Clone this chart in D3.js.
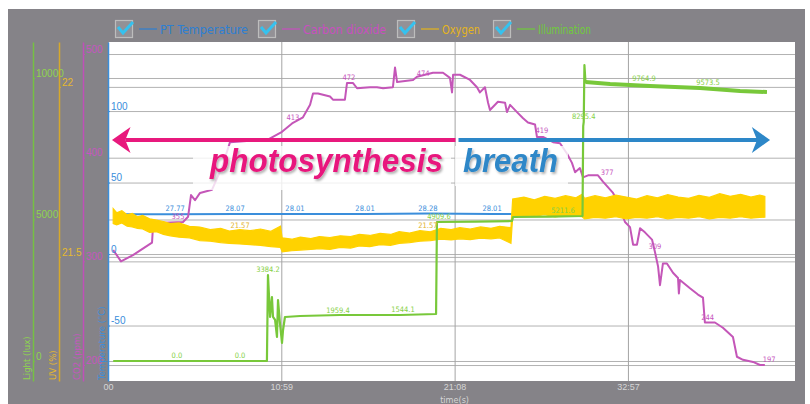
<!DOCTYPE html>
<html>
<head>
<meta charset="utf-8">
<script src="https://cdn.jsdelivr.net/npm/d3@7"></script>
<style>
  body { margin: 0; background: #fff; }
  svg { display: block; font-family: "DejaVu Sans Condensed", "Liberation Sans Narrow", Roboto, sans-serif; }
</style>
</head>
<body>
<div id="chart"></div>
<script>

// x axis is the sample number, the device prints a clock under each gridline
var timeTicks = [0, 100, 200, 300];
var timeLabels = ["00", "10:59", "21:08", "32:57"];

var seriesNames = ["PT Temperature", "Carbon dioxide", "Oxygen", "Illumination"];
var axisTitles = ["Light (lux)", "UV (%)", "CO2 (ppm)", "Temperature (\u00b0C)"];

var tempTicks = [-50, 0, 50, 100];
var co2Ticks = [200, 300, 400, 500];
var luxTicks = [0, 5000, 10000];
var o2Ticks = [21.5, 22];

// PT temperature (°C)
var tempIdx = [8, 38.7, 73.3, 107.9, 148.3, 184.6, 221.6, 233];
var tempVal = [27.85, 27.77, 28.07, 28.01, 28.01, 28.28, 28.01, 28.01];

// carbon dioxide (ppm)
var co2Idx = [3, 7.5, 14.4, 25.4, 26, 28.9, 43.3, 46.2, 47.9, 50.2, 53.1, 60, 66, 70.4, 80, 91.7,
  100.4, 106.2, 112.5, 116.6, 118.3, 121.2, 128.1, 129.8, 136.7, 137.9, 141.4, 143.7, 151.2, 155.2,
  158.7, 164.4, 165.6, 166.8, 176, 178.3, 187.5, 193.3, 197.3, 198.5, 199.1, 203.1, 208.9, 212.9,
  214.6, 217.5, 219.3, 220.4, 225, 229.1, 230.2, 232, 236, 239.5, 242.3, 246.4, 247.5, 251, 256.8,
  260.8, 264.8, 267.7, 269.5, 272.3, 274.1, 277, 282.7, 285.6, 291.4, 293.7, 298.3, 301.2, 303,
  305.2, 307, 309.8, 313.9, 315.6, 317.4, 318.5, 320.2, 322.5, 326, 328.9, 329.4, 330, 335.8, 340.4,
  343.3, 344.4, 350.2, 354.8, 360.6, 362.9, 366.4, 372.2, 376.2, 379];
var co2Val = [311, 300, 306, 318, 335, 337, 338, 343, 364, 359, 366, 369, 392, 415, 416, 417,
  425, 433, 439, 451, 462, 462, 459, 456, 456, 472, 472, 467, 468, 468,
  467, 468, 487, 473, 475, 478, 482, 482, 477, 463, 480, 480, 475, 468,
  463, 468, 453, 446, 454, 453, 444, 451, 444, 438, 434, 432, 420, 420, 415,
  414, 404, 395, 386, 390, 381, 383, 383, 377, 366, 359, 338, 333, 316,
  316, 332, 328, 321, 309, 295, 277, 298, 298, 289, 284, 269, 282, 274, 268,
  265, 241, 241, 236, 227, 208, 205, 203, 200, 200];

// oxygen (%), the reading is noisy so the device draws a band: upper and lower edge
var o2Idx = [3, 5, 8, 11, 14, 17, 20, 24, 28, 32, 36, 41, 47, 53, 59, 65, 70, 76, 82, 88, 94, 99.5,
  100.5, 106, 111, 117, 122, 128, 134, 140, 145, 151, 157, 163, 168, 174, 180, 186, 192, 198, 203,
  209, 215, 221, 226, 232.5, 233.5, 240, 246, 252, 258, 264, 270, 273.5, 275, 281, 287, 293, 299,
  305, 311, 317, 323, 329, 335, 341, 347, 353, 359, 365, 371, 376, 379];
var o2High = [21.642, 21.630, 21.636, 21.624, 21.628, 21.618, 21.622, 21.612, 21.608, 21.604, 21.598,
  21.600, 21.590, 21.588, 21.580, 21.584, 21.576, 21.580, 21.577, 21.582, 21.575, 21.590,
  21.556, 21.552, 21.558, 21.554, 21.560, 21.557, 21.562, 21.560, 21.566, 21.563, 21.569, 21.566,
  21.574, 21.570, 21.577, 21.574, 21.584, 21.580, 21.586, 21.582, 21.588, 21.584, 21.590, 21.586,
  21.670, 21.676, 21.668, 21.678, 21.672, 21.680, 21.674, 21.684, 21.672, 21.680, 21.674, 21.682,
  21.676, 21.670, 21.680, 21.674, 21.683, 21.676, 21.672, 21.681, 21.675, 21.686, 21.678, 21.684,
  21.676, 21.682, 21.678];
var o2Low = [21.598, 21.594, 21.600, 21.590, 21.588, 21.584, 21.582, 21.572, 21.574, 21.566, 21.562,
  21.558, 21.556, 21.548, 21.546, 21.542, 21.540, 21.538, 21.536, 21.534, 21.530, 21.528,
  21.515, 21.518, 21.520, 21.522, 21.524, 21.522, 21.528, 21.526, 21.532, 21.530, 21.536, 21.534,
  21.540, 21.542, 21.546, 21.548, 21.552, 21.550, 21.553, 21.551, 21.555, 21.553, 21.556, 21.540,
  21.618, 21.622, 21.620, 21.624, 21.618, 21.622, 21.620, 21.618, 21.612, 21.616, 21.614, 21.618,
  21.612, 21.616, 21.614, 21.618, 21.612, 21.616, 21.614, 21.618, 21.612, 21.616, 21.614, 21.618,
  21.614, 21.616, 21.617];

// illumination (lux)
var luxIdx = [3, 91.7, 92.3, 93.5, 94.6, 95.2, 96.4, 97.5, 98.1, 99.2, 100.4, 101, 102.1, 110.8,
  133.9, 168.5, 189.3, 189.8, 212, 233.1, 233.7, 255, 273.8, 274.2, 274.5, 274.9, 275.5, 289.7,
  312.7, 341.6, 364.7, 380.2];
var luxVal = [0, 0, 3039, 1555, 2261, 1555, 1449, 848, 2155, 1343, 636, 1095, 1555, 1590,
  1625, 1625, 1660, 4912, 4925, 4947, 5088, 5100, 5124, 8300, 8450, 10460, 9860, 9788,
  9717, 9647, 9541, 9505];

// value labels the device prints on the lines: [sample, value, text]
var tempLabels = [[38.7, 27.77, "27.77"], [73.3, 28.07, "28.07"], [107.9, 28.01, "28.01"],
  [148.3, 28.01, "28.01"], [184.6, 28.28, "28.28"], [221.6, 28.01, "28.01"]];
var co2Labels = [[40.4, 338, "355"], [106.7, 433, "413"], [139, 472, "472"], [181.8, 476, "474"],
  [250.4, 421, "419"], [288, 380, "377"], [315.6, 309, "309"], [346, 241, "244"], [381.5, 200, "197"]];
var luxLabels = [[39.8, 0, "0.0"], [76.2, 0, "0.0"], [92.3, 3039, "3384.2"], [132.7, 1590, "1959.4"],
  [170.2, 1625, "1544.1"], [191, 4912, "4909.6"], [262.5, 5124, "5211.6"], [274.5, 8450, "8295.4"],
  [309.3, 9788, "9764.9"], [346.2, 9647, "9573.5"]];
var o2Labels = [[76.2, 21.577, "21.57"], [184.6, 21.577, "21.57"]];

var annotations = ["photosynthesis", "breath"];


function draw_chart() {

	var W = 810, H = 404;
	var plot = {left: 108, right: 795, top: 42, bottom: 381};

	var col = {
		temp: "#3a8edb", co2: "#c456b8", o2: "#ffd200", lux: "#78c83a",
		tempTxt: "#3a8edb", co2Txt: "#c654bd", o2Txt: "#e2b22a", luxTxt: "#86d046",
		pink: "#e8197d", blue: "#2d87c8"
	};

	var svg = d3.select("#chart")
		.append("svg")
		.attr("width", W)
		.attr("height", H);

	var defs = svg.append("defs");
	defs.append("filter").attr("id", "shadow")
		.attr("x", "-10%").attr("y", "-30%").attr("width", "120%").attr("height", "160%")
	  .append("feDropShadow")
		.attr("dx", 1.5).attr("dy", 2).attr("stdDeviation", 1.2)
		.attr("flood-color", "#000").attr("flood-opacity", 0.3);

	// device frame
	svg.append("rect").attr("x", 8).attr("y", 9).attr("width", 797).attr("height", 395)
		.attr("fill", "#858388");
	svg.append("rect")
		.attr("x", plot.left).attr("y", plot.top)
		.attr("width", plot.right - plot.left).attr("height", plot.bottom - plot.top)
		.attr("fill", "#fff");

	var x = d3.scaleLinear().domain([0, 396.4]).range([plot.left, plot.right]);
	var yTemp = d3.scaleLinear().domain([-88.8, 148.3]).range([plot.bottom, plot.top]);
	var yCo2 = d3.scaleLinear().domain([184.6, 511.6]).range([plot.bottom, plot.top]);
	var yLux = d3.scaleLinear().domain([-707, 11272]).range([plot.bottom, plot.top]);
	var yO2 = d3.scaleLinear().domain([21.135, 22.132]).range([plot.bottom, plot.top]);

	// every y axis puts its own gridlines on the plot
	[[yCo2, co2Ticks], [yLux, luxTicks], [yO2, o2Ticks], [yTemp, tempTicks]].forEach(function(p) {
		var g = svg.append("g")
			.attr("transform", "translate(" + plot.left + ",0)")
			.call(d3.axisRight(p[0]).tickValues(p[1]).tickSize(plot.right - plot.left).tickFormat(""));
		g.select(".domain").remove();
		g.selectAll("line").attr("stroke", "#b2b2b2");
	});

	var xg = svg.append("g")
		.attr("transform", "translate(0," + plot.bottom + ")")
		.call(d3.axisBottom(x).tickValues(timeTicks).tickSizeInner(-(plot.bottom - plot.top)).tickSizeOuter(0)
			.tickPadding(3)
			.tickFormat(function(d, i) { return timeLabels[i]; }));
	xg.select(".domain").remove();
	xg.selectAll("line").attr("stroke", "#a4a4a4");
	xg.selectAll("text").attr("fill", "#d6d6d6").style("font-size", "9px");

	svg.append("text")
		.attr("x", x(200)).attr("y", 403)
		.attr("text-anchor", "middle")
		.attr("fill", "#d6d6d6")
		.style("font-size", "9px")
		.text("time(s)");

	// series
	var tempData = d3.zip(tempIdx, tempVal);
	var co2Data = d3.zip(co2Idx, co2Val);
	var o2Data = d3.zip(o2Idx, o2High, o2Low);
	var luxData = d3.zip(luxIdx, luxVal);

	function lineFor(ys) {
		return d3.line().x(function(d) { return x(d[0]); }).y(function(d) { return ys(d[1]); });
	}

	svg.append("path").datum(tempData)
		.attr("d", lineFor(yTemp))
		.attr("fill", "none").attr("stroke", col.temp).attr("stroke-width", 2);

	svg.append("path").datum(co2Data)
		.attr("d", lineFor(yCo2))
		.attr("fill", "none").attr("stroke", col.co2).attr("stroke-width", 2)
		.attr("stroke-linejoin", "round");

	svg.append("path").datum(o2Data)
		.attr("d", d3.area()
			.x(function(d) { return x(d[0]); })
			.y0(function(d) { return yO2(d[2]); })
			.y1(function(d) { return yO2(d[1]); }))
		.attr("fill", col.o2).attr("stroke", col.o2).attr("stroke-width", 1.2);

	svg.append("path").datum(luxData)
		.attr("d", lineFor(yLux))
		.attr("fill", "none").attr("stroke", col.lux).attr("stroke-width", 2.2)
		.attr("stroke-linejoin", "round");
	// the bright part is noisy, the device draws it thicker
	svg.append("path").datum(luxData.filter(function(d) { return d[0] >= 275.5; }))
		.attr("d", lineFor(yLux))
		.attr("fill", "none").attr("stroke", col.lux).attr("stroke-width", 4);

	function labels(data, ys, color) {
		svg.append("g").selectAll("text")
			.data(data).enter()
			.append("text")
			.attr("x", function(d) { return x(d[0]); })
			.attr("y", function(d) { return ys(d[1]) - 3; })
			.attr("text-anchor", "middle")
			.attr("fill", color)
			.style("font-size", "7.5px")
			.text(function(d) { return d[2]; });
	}
	labels(tempLabels, yTemp, col.tempTxt);
	labels(co2Labels, yCo2, col.co2Txt);
	labels(o2Labels, yO2, col.o2Txt);
	labels(luxLabels, yLux, col.luxTxt);

	// y axes on the left, one per sensor
	var axes = [
		{scale: yLux, ticks: luxTicks, x: 33, line: "#76c043", txt: "#8fd44f"},
		{scale: yO2, ticks: o2Ticks, x: 59, line: "#d6a92c", txt: "#e6b92e"},
		{scale: yCo2, ticks: co2Ticks, x: 83, line: "#c050b8", txt: "#c656c0"},
		{scale: yTemp, ticks: tempTicks, x: 108, line: "#3a8edb", txt: "#3a8edb"}
	];
	axes.forEach(function(a, i) {
		var g = svg.append("g")
			.attr("transform", "translate(" + a.x + ",0)")
			.call(d3.axisRight(a.scale).tickValues(a.ticks).tickSizeInner(2).tickSizeOuter(0)
				.tickPadding(1).tickFormat(function(d) { return String(d); }));
		g.select(".domain").attr("stroke", a.line).attr("stroke-width", 1.5);
		g.selectAll(".tick line").attr("stroke", a.line);
		g.selectAll(".tick text").attr("fill", a.txt).attr("y", -5).style("font-size", "10px");

		svg.append("text")
			.attr("transform", "translate(" + (a.x - 3) + "," + (plot.bottom - 1) + ") rotate(-90)")
			.attr("fill", a.txt)
			.style("font-size", "9.5px")
			.text(axisTitles[i]);
	});

	// annotation: white boxes behind the words, arrows, words
	svg.append("rect").attr("x", 193).attr("y", 146).attr("width", 258).attr("height", 44)
		.attr("fill", "#fff").attr("opacity", 0.8);
	svg.append("rect").attr("x", 455).attr("y", 146).attr("width", 113).attr("height", 40)
		.attr("fill", "#fff").attr("opacity", 0.8);

	var split = x(200.5), arrowY = 140;
	svg.append("line").attr("x1", split).attr("x2", x(10)).attr("y1", arrowY).attr("y2", arrowY)
		.attr("stroke", col.pink).attr("stroke-width", 4);
	svg.append("path")
		.attr("d", "M" + x(2.3) + "," + arrowY + "L" + x(13) + "," + (arrowY - 13) + "L" + x(10) + "," + arrowY +
			"L" + x(13) + "," + (arrowY + 13) + "Z")
		.attr("fill", col.pink);
	svg.append("line").attr("x1", split + 3).attr("x2", x(375)).attr("y1", arrowY).attr("y2", arrowY)
		.attr("stroke", col.blue).attr("stroke-width", 4);
	svg.append("path")
		.attr("d", "M" + x(382) + "," + arrowY + "L" + x(371.5) + "," + (arrowY - 13) + "L" + x(374.5) + "," + arrowY +
			"L" + x(371.5) + "," + (arrowY + 13) + "Z")
		.attr("fill", col.blue);

	svg.append("text")
		.attr("x", 210).attr("y", 172)
		.attr("textLength", 233).attr("lengthAdjust", "spacingAndGlyphs")
		.attr("fill", col.pink)
		.attr("filter", "url(#shadow)")
		.style("font-family", "'Liberation Sans', Arial, sans-serif")
		.style("font-weight", "bold").style("font-style", "italic").style("font-size", "33px")
		.text(annotations[0]);
	svg.append("text")
		.attr("x", 463).attr("y", 172)
		.attr("textLength", 95).attr("lengthAdjust", "spacingAndGlyphs")
		.attr("fill", col.blue)
		.attr("filter", "url(#shadow)")
		.style("font-family", "'Liberation Sans', Arial, sans-serif")
		.style("font-weight", "bold").style("font-style", "italic").style("font-size", "33px")
		.text(annotations[1]);

	// legend with the device's check boxes
	var legendX = [115, 258, 397, 493];
	var legendW = [88, 83, 38, 53];
	var legendCol = ["#2d7fd3", "#c94fc0", "#e5b51c", "#6fcc3a"];
	var lg = svg.append("g").selectAll("g")
		.data(seriesNames).enter()
		.append("g")
		.attr("transform", function(d, i) { return "translate(" + legendX[i] + ",20)"; });
	lg.append("rect").attr("x", 0.5).attr("y", 0.5).attr("width", 17).attr("height", 17)
		.attr("fill", "#939196").attr("stroke", "#bdbdbd").attr("stroke-width", 1.2);
	lg.append("polyline").attr("points", "3,7 8,13 18,2")
		.attr("fill", "none").attr("stroke", "#35c2ef").attr("stroke-width", 3);
	lg.append("line").attr("x1", 24).attr("x2", 42).attr("y1", 9).attr("y2", 9)
		.attr("stroke", function(d, i) { return legendCol[i]; }).attr("stroke-width", 1.2);
	lg.append("text")
		.attr("x", 45).attr("y", 13.5)
		.attr("textLength", function(d, i) { return legendW[i]; })
		.attr("lengthAdjust", "spacingAndGlyphs")
		.attr("fill", function(d, i) { return legendCol[i]; })
		.style("font-size", "12.5px")
		.text(function(d) { return d; });
}

draw_chart();
</script>
</body>
</html>
